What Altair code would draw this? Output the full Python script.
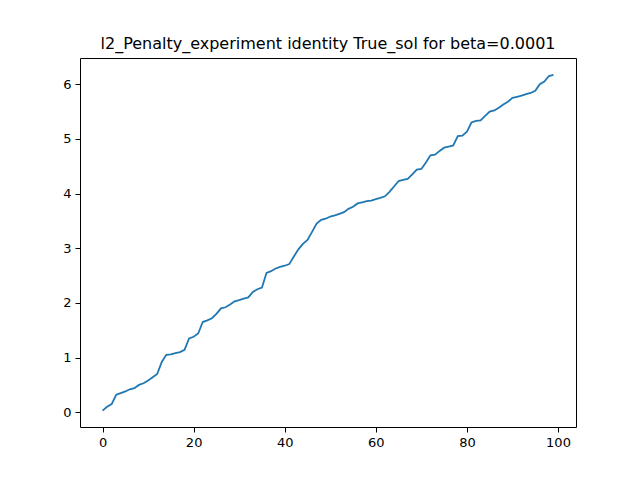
import altair as alt
import pandas as pd

values = [
    0.03, 0.10, 0.15, 0.32, 0.35, 0.38, 0.42, 0.44, 0.50, 0.53,
    0.58, 0.64, 0.70, 0.92, 1.05, 1.06, 1.08, 1.10, 1.14, 1.35,
    1.38, 1.44, 1.65, 1.68, 1.72, 1.80, 1.90, 1.92, 1.97, 2.03,
    2.05, 2.08, 2.10, 2.20, 2.25, 2.28, 2.55, 2.58, 2.63, 2.66,
    2.68, 2.71, 2.85, 2.98, 3.08, 3.15, 3.30, 3.45, 3.52, 3.54,
    3.58, 3.60, 3.63, 3.66, 3.72, 3.76, 3.82, 3.84, 3.86, 3.87,
    3.90, 3.92, 3.95, 4.03, 4.13, 4.23, 4.25, 4.27, 4.35, 4.44,
    4.45, 4.57, 4.70, 4.71, 4.78, 4.84, 4.86, 4.88, 5.05, 5.06,
    5.13, 5.30, 5.33, 5.34, 5.42, 5.50, 5.52, 5.57, 5.63, 5.68,
    5.75, 5.77, 5.79, 5.82, 5.84, 5.88, 6.00, 6.05, 6.15, 6.17,
]
steps = list(range(len(values)))
x_ticks = [0, 20, 40, 60, 80, 100]
y_ticks = [0, 1, 2, 3, 4, 5, 6]

df = pd.DataFrame({"step": steps, "value": values})

axis_style = dict(grid=False, domain=False, tickColor="black", labelColor="black",
                  labelFontSize=13, labelFont="DejaVu Sans", tickSize=5, labelPadding=4)

chart = (
    alt.Chart(df)
    .mark_line(color="#1f77b4", strokeWidth=1.8)
    .encode(
        x=alt.X("step:Q", title=None,
                scale=alt.Scale(domain=[-4.95, 103.95], nice=False, zero=False),
                axis=alt.Axis(values=x_ticks, **axis_style)),
        y=alt.Y("value:Q", title=None,
                scale=alt.Scale(domain=[-0.27, 6.48], nice=False, zero=False),
                axis=alt.Axis(values=y_ticks, **axis_style)),
    )
    .properties(
        width=496, height=369,
        title=alt.TitleParams("l2_Penalty_experiment identity True_sol for beta=0.0001",
                              font="DejaVu Sans", fontSize=16, fontWeight="normal",
                              color="black", offset=6),
        autosize=alt.AutoSizeParams(type="none"),
        padding={"left": 72, "top": 50, "right": 50, "bottom": 40},
    )
    .configure_view(stroke="black", strokeWidth=1)
)

chart.save("out.html", embed_options={"renderer": "svg", "actions": False})
